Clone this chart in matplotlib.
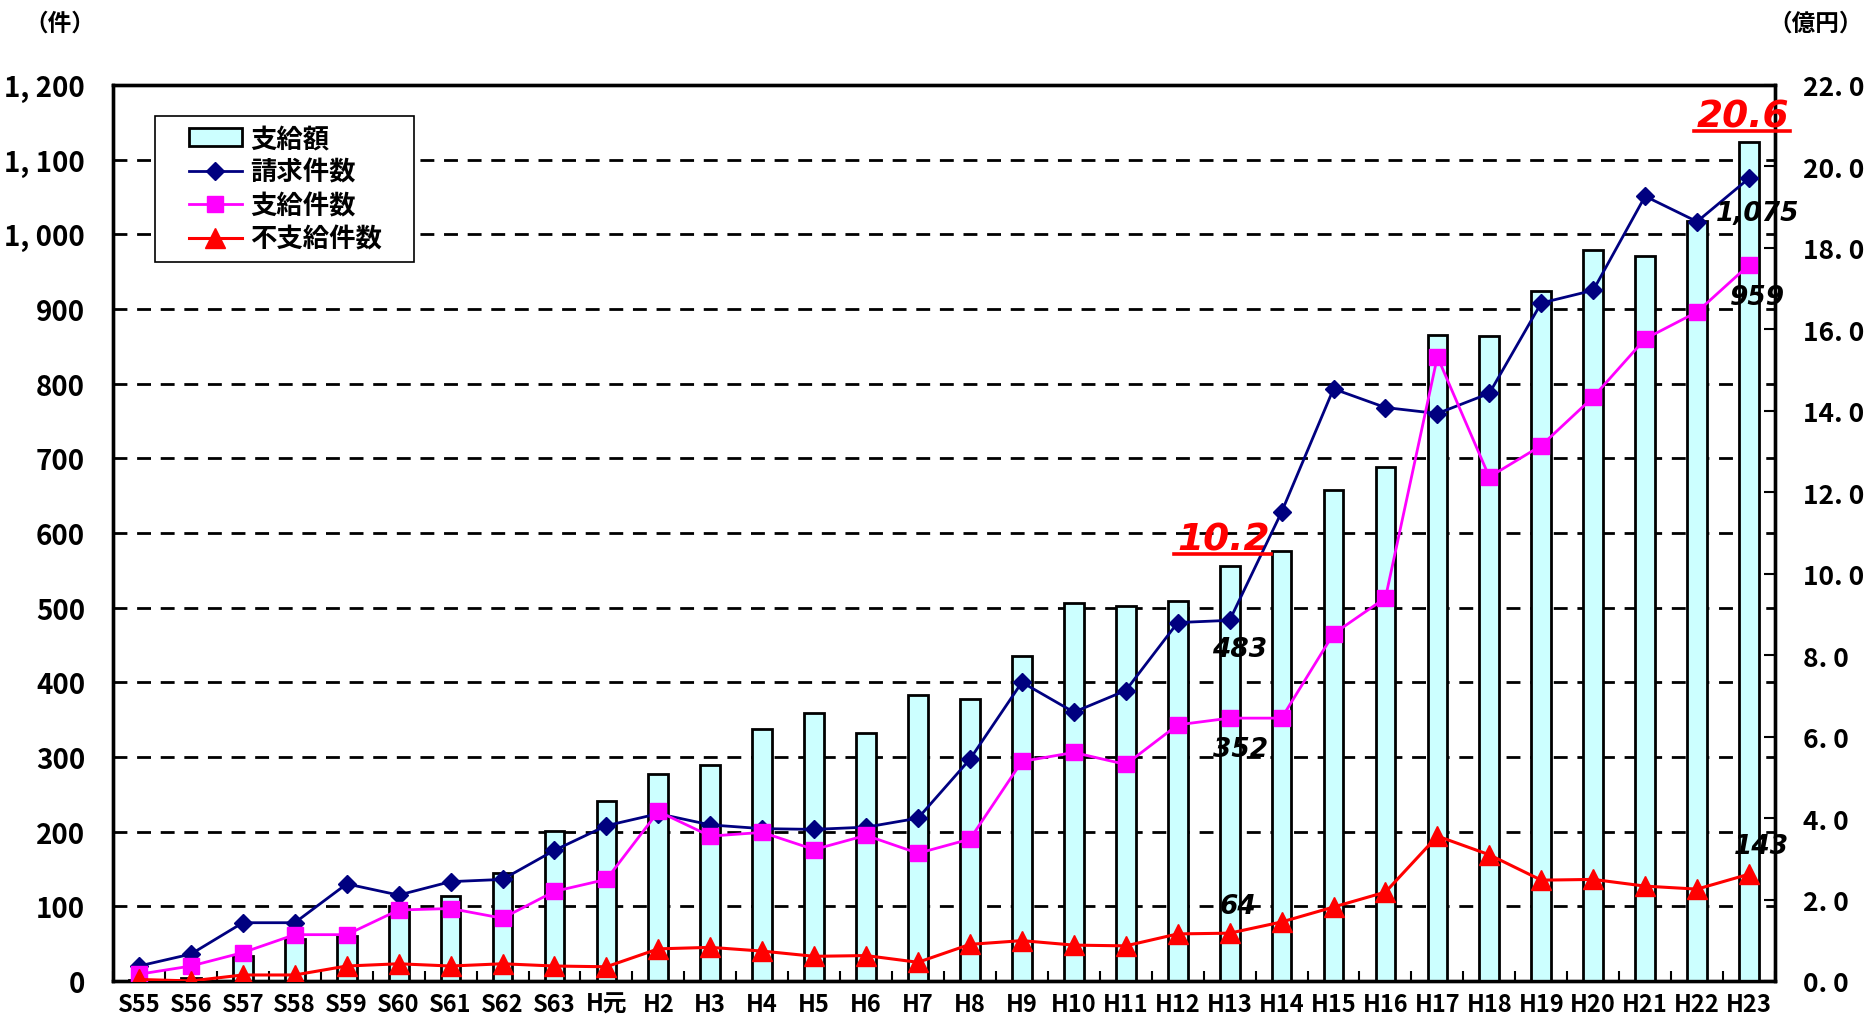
import matplotlib
matplotlib.use("Agg")
import matplotlib.pyplot as plt
from matplotlib.lines import Line2D
from matplotlib.patches import Rectangle
from matplotlib.transforms import IdentityTransform
import numpy as np

plt.rcParams['font.family'] = ['Noto Sans CJK JP', 'DejaVu Sans']

# 年度
years = ['S55', 'S56', 'S57', 'S58', 'S59', 'S60', 'S61', 'S62', 'S63', 'H元',
         'H2', 'H3', 'H4', 'H5', 'H6', 'H7', 'H8', 'H9', 'H10', 'H11', 'H12',
         'H13', 'H14', 'H15', 'H16', 'H17', 'H18', 'H19', 'H20', 'H21', 'H22', 'H23']

# 支給額（億円）
amount = [0.02, 0.08, 0.61, 1.02, 1.10, 1.85, 2.08, 2.64, 3.68, 4.43,
          5.07, 5.31, 6.19, 6.57, 6.09, 7.02, 6.93, 7.97, 9.28, 9.21, 9.34,
          10.2, 10.56, 12.05, 12.62, 15.87, 15.83, 16.95, 17.96, 17.81, 18.67, 20.6]

# 請求件数
claims = [20, 36, 78, 78, 130, 115, 133, 136, 175, 208,
          224, 209, 204, 203, 206, 218, 297, 400, 360, 389, 480,
          483, 628, 793, 768, 760, 787, 908, 925, 1051, 1017, 1075]

# 支給件数
paid = [9, 20, 38, 62, 62, 95, 97, 84, 120, 136,
        227, 194, 199, 176, 195, 171, 190, 294, 306, 290, 343,
        352, 352, 465, 513, 836, 675, 717, 782, 860, 896, 959]

# 不支給件数
unpaid = [2, 0, 8, 8, 20, 23, 20, 23, 20, 19,
          43, 45, 40, 33, 34, 25, 49, 54, 48, 47, 63,
          64, 79, 99, 119, 194, 169, 135, 136, 127, 123, 143]

left_ticks = [0, 100, 200, 300, 400, 500, 600, 700, 800, 900, 1000, 1100, 1200]
left_labels = ['0', '100', '200', '300', '400', '500', '600', '700', '800', '900',
               '1, 000', '1, 100', '1, 200']
right_ticks = [0, 2, 4, 6, 8, 10, 12, 14, 16, 18, 20, 22]
right_labels = ['0. 0', '2. 0', '4. 0', '6. 0', '8. 0', '10. 0', '12. 0', '14. 0',
                '16. 0', '18. 0', '20. 0', '22. 0']

x = np.arange(len(years))
cjk = ['Noto Sans CJK JP', 'DejaVu Sans']

fig = plt.figure(figsize=(18.68, 10.2), dpi=100)
ax = fig.add_axes([0.0605, 0.0373, 0.8897, 0.8784])
ax2 = ax.twinx()   # 支給額
ax3 = ax.twinx()   # 件数の折れ線

# 左軸
ax.set_xlim(-0.5, len(years) - 0.5)
ax.set_ylim(0, 1200)
ax.set_yticks(left_ticks)
ax.set_yticklabels(left_labels, family=cjk, weight='bold', size=20)
ax.tick_params(axis='y', length=0, pad=20)
ax.set_xticks(x)
ax.set_xticklabels(years, family=cjk, weight='bold', size=17)
ax.set_xticks(np.arange(len(years) + 1) - 0.5, minor=True)
ax.tick_params(axis='x', which='major', length=0, pad=8)
ax.tick_params(axis='x', which='minor', direction='in', length=7, width=1.5)
for yv in left_ticks[1:-1]:
    ax.axhline(yv, color='black', lw=2, ls=(0, (5, 3.5)), zorder=0)
for s in ax.spines.values():
    s.set_linewidth(2.4)

# 右軸（棒）
ax2.bar(x, amount, width=0.38, color='#ccffff', edgecolor='black', linewidth=2, zorder=2)
ax2.set_ylim(0, 22)
ax2.set_yticks(right_ticks)
ax2.set_yticklabels(right_labels, family=cjk, weight='bold', size=19)
ax2.tick_params(axis='y', direction='in', length=8, width=1.5, pad=20)
for s in ax2.spines.values():
    s.set_linewidth(2.4)

# 折れ線
ax3.set_ylim(0, 1200)
ax3.set_yticks([])
for s in ax3.spines.values():
    s.set_visible(False)
l1, = ax3.plot(x, claims, color='#000080', lw=2, marker='D', ms=9, label='請求件数')
l2, = ax3.plot(x, paid, color='#ff00ff', lw=2, marker='s', ms=11, label='支給件数')
l3, = ax3.plot(x, unpaid, color='#ff0000', lw=2.2, marker='^', ms=15, label='不支給件数')

bar_handle = plt.Rectangle((0, 0), 1, 1, facecolor='#ccffff', edgecolor='black', lw=2)
leg = ax3.legend([bar_handle, l1, l2, l3], ['支給額', '請求件数', '支給件数', '不支給件数'],
                 loc='upper left', bbox_to_anchor=(0.041, 0.964), borderaxespad=0,
                 frameon=False,
                 prop=dict(family=cjk, weight='bold', size=19),
                 handlelength=2.0, handleheight=0.7, labelspacing=0.25,
                 handletextpad=0.3, borderpad=0.3)

# 数値ラベル
num_font = dict(family='DejaVu Sans', weight='bold', style='italic', size=19, color='black')
i13 = years.index('H13')
i23 = years.index('H23')
ax3.annotate(f'{claims[i13]}', (x[i13], claims[i13]), xytext=(10, -29),
             textcoords='offset pixels', ha='center', va='center', **num_font)
ax3.annotate(f'{paid[i13]}', (x[i13], paid[i13]), xytext=(11, -31),
             textcoords='offset pixels', ha='center', va='center', **num_font)
ax3.annotate(f'{unpaid[i13]}', (x[i13], unpaid[i13]), xytext=(8, 27),
             textcoords='offset pixels', ha='center', va='center', **num_font)
ax3.annotate(f'{claims[i23]:,}', (x[i23], claims[i23]), xytext=(9, -35),
             textcoords='offset pixels', ha='center', va='center', **num_font)
ax3.annotate(f'{paid[i23]}', (x[i23], paid[i23]), xytext=(8, -32),
             textcoords='offset pixels', ha='center', va='center', **num_font)
ax3.annotate(f'{unpaid[i23]}', (x[i23], unpaid[i23]), xytext=(12, 28),
             textcoords='offset pixels', ha='center', va='center', **num_font)

red_labels = []
for i in [i13, i23]:
    t = ax2.annotate(f'{amount[i]:.1f}', (x[i], amount[i]), xytext=(-6, 16),
                     textcoords='offset pixels', ha='center', va='baseline',
                     family='DejaVu Sans', weight='bold', style='italic', size=27,
                     color='#ff0000', zorder=5, annotation_clip=False)
    red_labels.append(t)

# 単位
fig.text(60 / 1868, 1 - 24 / 1020, '（件）', ha='center', va='center',
         weight='bold', size=17)
fig.text(1816 / 1868, 1 - 24 / 1020, '（億円）', ha='center', va='center',
         weight='bold', size=17)

fig.canvas.draw()
renderer = fig.canvas.get_renderer()

# 赤ラベルの下線
for t in red_labels:
    bb = t.get_window_extent(renderer)
    ybase = bb.y0 + 0.2 * bb.height - 4
    fig.add_artist(Line2D([bb.x0 - 3, bb.x1 + 1], [ybase, ybase], color='#ff0000',
                          lw=2.6, transform=IdentityTransform()))

# 凡例の枠（左右の余白を広めに）
lb = leg.get_window_extent(renderer)
frame = Rectangle((lb.x0 - 26, lb.y0 - 1), lb.width + 26 + 24, lb.height + 2,
                  facecolor='white', edgecolor='black', lw=1.2,
                  transform=IdentityTransform(), zorder=4)
ax3.add_artist(frame)
leg.set_zorder(5)

fig.savefig('out.png', dpi=100)
